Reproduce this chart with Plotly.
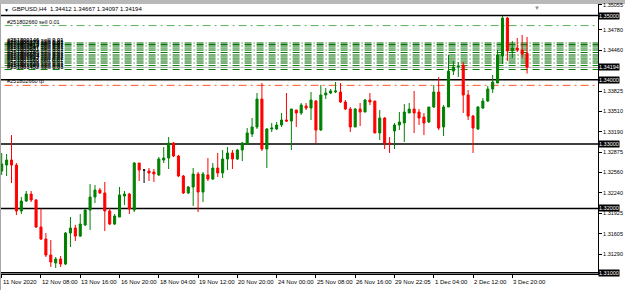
import plotly.graph_objects as go

# ---------------- data ----------------
bars = list(range(108))

opens = [1.32582, 1.32675, 1.32753, 1.32675, 1.31960, 1.32115, 1.32224, 1.32131, 1.31711, 1.31524,
         1.31275, 1.31151, 1.31213, 1.31135, 1.31617, 1.31695, 1.31570, 1.31742, 1.31975, 1.32177,
         1.32286, 1.32240, 1.31960, 1.31757, 1.31866, 1.32193, 1.32224, 1.31975, 1.32706, 1.32597,
         1.32582, 1.32566, 1.32520, 1.32753, 1.32784, 1.33017, 1.32815, 1.32504, 1.32240, 1.32333,
         1.32535, 1.32255, 1.32520, 1.32457, 1.32628, 1.32551, 1.32768, 1.32862, 1.32768, 1.32908,
         1.33002, 1.33157, 1.33266, 1.33701, 1.32924, 1.33235, 1.33235, 1.33297, 1.33375, 1.33359,
         1.33530, 1.33484, 1.33592, 1.33561, 1.33670, 1.33219, 1.33764, 1.33795, 1.33810, 1.33810,
         1.33655, 1.33546, 1.33266, 1.33546, 1.33499, 1.33686, 1.33670, 1.33173, 1.33406, 1.33017,
         1.33204, 1.33297, 1.33328, 1.33484, 1.33546, 1.33499, 1.33421, 1.33344, 1.33577, 1.33810,
         1.33266, 1.33577, 1.34137, 1.34199, 1.34230, 1.33764, 1.33437, 1.33235, 1.33561, 1.33670,
         1.33857, 1.33950, 1.34370, 1.34961, 1.34448, 1.34494, 1.34463, 1.34412]

highs = [1.32862, 1.32846, 1.33141, 1.32706, 1.32177, 1.32271, 1.32271, 1.32146, 1.31991, 1.31617,
         1.31508, 1.31244, 1.31260, 1.31633, 1.31866, 1.31742, 1.31913, 1.31991, 1.32380, 1.32364,
         1.32317, 1.32411, 1.32006, 1.31913, 1.32333, 1.32271, 1.32240, 1.32722, 1.32706, 1.32597,
         1.32628, 1.32613, 1.32799, 1.32955, 1.33110, 1.33033, 1.32831, 1.32520, 1.32348, 1.32628,
         1.32566, 1.32566, 1.32784, 1.32706, 1.32862, 1.32908, 1.32955, 1.32908, 1.32924, 1.33033,
         1.33250, 1.33406, 1.33795, 1.33950, 1.33250, 1.33328, 1.33344, 1.33484, 1.33795, 1.33546,
         1.33530, 1.33639, 1.33639, 1.33810, 1.33686, 1.33919, 1.33872, 1.33857, 1.33966, 1.33950,
         1.33686, 1.33577, 1.33561, 1.33639, 1.33701, 1.33795, 1.33670, 1.33530, 1.33421, 1.33110,
         1.33328, 1.33499, 1.33623, 1.33639, 1.33826, 1.33546, 1.33484, 1.33577, 1.33919, 1.34044,
         1.33608, 1.34386, 1.34292, 1.34277, 1.34277, 1.33841, 1.33453, 1.33592, 1.33717, 1.33904,
         1.34075, 1.34463, 1.34992, 1.34977, 1.34603, 1.34650, 1.34697, 1.34667]

lows = [1.32520, 1.32504, 1.32395, 1.31897, 1.31913, 1.32100, 1.32100, 1.31695, 1.31508, 1.31244,
        1.31089, 1.31073, 1.31089, 1.31120, 1.31400, 1.31493, 1.31555, 1.31726, 1.31664, 1.32084,
        1.32224, 1.31648, 1.31742, 1.31742, 1.31866, 1.32053, 1.31913, 1.31944, 1.32426, 1.32395,
        1.32426, 1.32411, 1.32504, 1.32706, 1.32613, 1.32799, 1.32488, 1.32224, 1.32224, 1.32037,
        1.31944, 1.32100, 1.32426, 1.32442, 1.32488, 1.32473, 1.32597, 1.32613, 1.32753, 1.32737,
        1.32986, 1.33110, 1.33235, 1.32893, 1.32628, 1.33188, 1.33219, 1.33266, 1.33344, 1.32908,
        1.33266, 1.33453, 1.33530, 1.33375, 1.33017, 1.33204, 1.33701, 1.33779, 1.33795, 1.33639,
        1.33530, 1.33188, 1.33266, 1.33281, 1.33499, 1.33608, 1.33173, 1.33064, 1.32924, 1.32862,
        1.32924, 1.33219, 1.33033, 1.33484, 1.33173, 1.33297, 1.33141, 1.33328, 1.33561, 1.33219,
        1.33126, 1.33577, 1.34075, 1.34044, 1.33484, 1.33375, 1.32862, 1.33219, 1.33546, 1.33655,
        1.33795, 1.33950, 1.34246, 1.34292, 1.34339, 1.34432, 1.34339, 1.34097]

closes = [1.32691, 1.32753, 1.32675, 1.31960, 1.32115, 1.32224, 1.32131, 1.31711, 1.31524, 1.31275,
          1.31166, 1.31213, 1.31135, 1.31617, 1.31695, 1.31570, 1.31757, 1.31975, 1.32177, 1.32286,
          1.32240, 1.31960, 1.31757, 1.31882, 1.32209, 1.32224, 1.31991, 1.32706, 1.32597, 1.32597,
          1.32551, 1.32535, 1.32768, 1.32784, 1.33017, 1.32815, 1.32504, 1.32240, 1.32333, 1.32535,
          1.32255, 1.32535, 1.32457, 1.32628, 1.32551, 1.32768, 1.32862, 1.32768, 1.32908, 1.33017,
          1.33173, 1.33266, 1.33701, 1.32924, 1.33235, 1.33250, 1.33297, 1.33375, 1.33359, 1.33546,
          1.33484, 1.33608, 1.33561, 1.33686, 1.33219, 1.33764, 1.33795, 1.33826, 1.33826, 1.33655,
          1.33546, 1.33266, 1.33546, 1.33499, 1.33686, 1.33655, 1.33173, 1.33406, 1.33017, 1.33002,
          1.33297, 1.33344, 1.33499, 1.33546, 1.33484, 1.33406, 1.33328, 1.33577, 1.33810, 1.33250,
          1.33577, 1.34137, 1.34199, 1.34215, 1.33764, 1.33437, 1.33250, 1.33577, 1.33670, 1.33857,
          1.33966, 1.34386, 1.34961, 1.34448, 1.34494, 1.34463, 1.34401, 1.34194]

x_tick_bars = [0, 8, 16, 24, 32, 40, 48, 56, 64, 72, 80, 88, 96, 104]
x_tick_labels = ["11 Nov 2020", "12 Nov 08:00", "13 Nov 16:00", "16 Nov 20:00", "18 Nov 04:00",
                 "19 Nov 12:00", "20 Nov 20:00", "24 Nov 00:00", "25 Nov 08:00", "26 Nov 16:00",
                 "29 Nov 22:05", "1 Dec 04:00", "2 Dec 12:00", "3 Dec 20:00"]

y_tick_vals = [1.35170, 1.34780, 1.34460, 1.33825, 1.33510, 1.33190, 1.32875,
               1.32560, 1.32240, 1.31925, 1.31605, 1.31290]
y_tick_text = ["1.35055", "1.34780", "1.34460", "1.33825", "1.33510", "1.33190", "1.32875",
               "1.32560", "1.32240", "1.31925", "1.31605", "1.31290"]

level_lines = [1.35000, 1.34000, 1.33000, 1.32000, 1.31000]
bid_price = 1.34194
title_text = "GBPUSD,H4  1.34412 1.34667 1.34097 1.34194"

main_order_price = 1.34843
main_order_label = "#251802660 sell 0.01"
tp_price = 1.33914
tp_label = "#251802660 tp"

sell_prices = [1.34572, 1.34549, 1.34526, 1.34494, 1.34463, 1.34425, 1.34386,
               1.34355, 1.34324, 1.34292, 1.34261, 1.34222, 1.34191, 1.34160]
sell_labels = ["#251800146 sell 0.01", "#251800233 sell 0.01", "#251800378 sell 0.01",
               "#251800412 sell 0.01", "#251800597 sell 0.01", "#251800631 sell 0.01",
               "#251800785 sell 0.01", "#251800859 sell 0.01", "#251800904 sell 0.01",
               "#251801047 sell 0.01", "#251801188 sell 0.01", "#251801236 sell 0.01",
               "#251801390 sell 0.01", "#251801452 sell 0.01"]

# ---------------- layout geometry ----------------
W, H = 625, 290
ML, MR, MT, MB = 1, 27, 4, 16
X_RANGE = [-0.14, 121.45]
Y_RANGE = [1.30980, 1.35179]
FONT = "Liberation Sans"
GREEN = "#008000"
RED = "#FF0000"
PW = W - ML - MR
PH = H - MT - MB

fig = go.Figure()

normal = [i for i in bars if opens[i] != closes[i]]
doji = [i for i in bars if opens[i] == closes[i]]

fig.add_trace(go.Candlestick(
    x=[bars[i] for i in normal],
    open=[opens[i] for i in normal], high=[highs[i] for i in normal],
    low=[lows[i] for i in normal], close=[closes[i] for i in normal],
    increasing=dict(line=dict(color=GREEN, width=1), fillcolor=GREEN),
    decreasing=dict(line=dict(color=RED, width=1), fillcolor=RED),
    whiskerwidth=0, showlegend=False, hoverinfo="skip"))
if doji:
    fig.add_trace(go.Candlestick(
        x=[bars[i] for i in doji],
        open=[opens[i] for i in doji], high=[highs[i] for i in doji],
        low=[lows[i] for i in doji], close=[closes[i] for i in doji],
        increasing=dict(line=dict(color="#000000", width=1), fillcolor="#000000"),
        decreasing=dict(line=dict(color="#000000", width=1), fillcolor="#000000"),
        whiskerwidth=0, showlegend=False, hoverinfo="skip"))

shapes = []
# order lines
shapes.append(dict(type="line", xref="paper", x0=0.006, x1=1, yref="y",
                   y0=main_order_price, y1=main_order_price,
                   line=dict(color="#55B055", width=1, dash="8px,4px,2px,4px"), layer="below"))
greens = ["#006400", "#007A00", "#005A00", "#118811"]
dashes = ["7px,2px,1px,2px", "7px,5px", "7px,2px,1px,2px", "7px,5px"]
for k, p in enumerate(sell_prices):
    shapes.append(dict(type="line", xref="paper", x0=0.006, x1=1, yref="y", y0=p, y1=p,
                       line=dict(color=greens[k % 4], width=1, dash=dashes[k % 4]), layer="below"))
shapes.append(dict(type="line", xref="paper", x0=0.006, x1=1, yref="y", y0=tp_price, y1=tp_price,
                   line=dict(color="#FF5522", width=1, dash="8px,4px,2px,4px"), layer="below"))
# bid line
shapes.append(dict(type="line", xref="paper", x0=0, x1=1, yref="y", y0=bid_price, y1=bid_price,
                   line=dict(color="#BDBDBD", width=1), layer="below"))
# round level lines
for p in level_lines:
    shapes.append(dict(type="line", xref="paper", x0=0, x1=1, yref="y", y0=p, y1=p,
                       line=dict(color="#000000", width=1.5), layer="below"))
# window frame strips (in the margins)
shapes.append(dict(type="rect", xref="paper", yref="paper", x0=-ML / PW, x1=1 + MR / PW,
                   y0=1, y1=1 + MT / PH, fillcolor="#B8B8B8", line=dict(width=0), layer="below"))
shapes.append(dict(type="rect", xref="paper", yref="paper", x0=-ML / PW, x1=0,
                   y0=-MB / PH, y1=1, fillcolor="#A8A8A8", line=dict(width=0), layer="below"))

annotations = []
# x-axis labels (left aligned at tick)
for b, t in zip(x_tick_bars, x_tick_labels):
    annotations.append(dict(x=b, xref="x", y=0, yref="paper", text=t, showarrow=False,
                            xanchor="left", yanchor="top", yshift=-3, xshift=-1,
                            font=dict(family=FONT, size=6, color="#000000")))
# level boxes on price scale
for p in level_lines + [bid_price]:
    annotations.append(dict(x=1, xref="paper", y=p, yref="y", text=f"{p:.5f}", showarrow=False,
                            xanchor="left", yanchor="middle", xshift=0, bgcolor="#000000",
                            borderpad=0, font=dict(family=FONT, size=5.5, color="#FFFFFF")))
# title
annotations.append(dict(x=0, xref="paper", y=1, yref="paper", text="▼", showarrow=False,
                        xanchor="left", yanchor="top", xshift=1, yshift=-1,
                        font=dict(family=FONT, size=5, color="#000000")))
annotations.append(dict(x=0, xref="paper", y=1, yref="paper", text=title_text, showarrow=False,
                        xanchor="left", yanchor="top", xshift=9, yshift=0,
                        font=dict(family=FONT, size=6, color="#000000")))
# chart shift marker
annotations.append(dict(x=109, xref="x", y=1, yref="paper", text="▼", showarrow=False,
                        xanchor="center", yanchor="top", yshift=1,
                        font=dict(family=FONT, size=6, color="#909090")))
# order labels
annotations.append(dict(x=0, xref="paper", y=main_order_price, yref="y", text=main_order_label,
                        showarrow=False, xanchor="left", yanchor="bottom", xshift=4, yshift=-1,
                        font=dict(family=FONT, size=5.5, color="#000000")))
for p, t in zip(sell_prices, sell_labels):
    annotations.append(dict(x=0, xref="paper", y=p, yref="y", text=t, showarrow=False,
                            xanchor="left", yanchor="bottom", xshift=4, yshift=-2,
                            font=dict(family=FONT, size=5.8, color="#000000", weight="bold")))
annotations.append(dict(x=0, xref="paper", y=tp_price, yref="y", text=tp_label,
                        showarrow=False, xanchor="left", yanchor="bottom", xshift=4, yshift=-1,
                        font=dict(family=FONT, size=5.5, color="#000000")))

fig.update_layout(
    width=W, height=H, margin=dict(l=ML, r=MR, t=MT, b=MB, pad=0),
    paper_bgcolor="#FFFFFF", plot_bgcolor="#FFFFFF",
    boxgap=0.4, showlegend=False,
    shapes=shapes, annotations=annotations,
    xaxis=dict(range=X_RANGE, showgrid=False, zeroline=False, showline=True, linecolor="#000000",
               linewidth=1, ticks="outside", ticklen=3, tickcolor="#000000", tickwidth=1,
               tickvals=x_tick_bars, showticklabels=False, rangeslider=dict(visible=False),
               fixedrange=True),
    yaxis=dict(range=Y_RANGE, side="right", showgrid=False, zeroline=False, showline=True,
               linecolor="#000000", linewidth=1, ticks="outside", ticklen=3, tickcolor="#000000",
               tickvals=y_tick_vals, ticktext=y_tick_text,
               tickfont=dict(family=FONT, size=5.5, color="#000000"), fixedrange=True),
)

fig.write_html("out.html")
